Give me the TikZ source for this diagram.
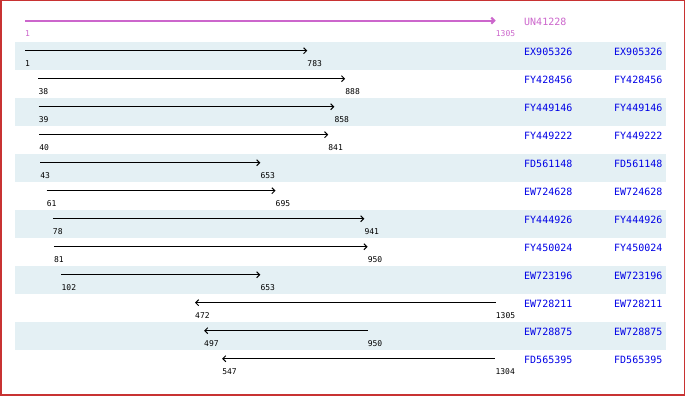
\documentclass[tikz,border=0pt]{standalone}
\usepackage{fontspec}
\newfontfamily\monof{DejaVu Sans Mono}
\usetikzlibrary{arrows.meta}
\definecolor{frameRed}{RGB}{200,50,50}
\definecolor{rowShade}{RGB}{228,240,244}
\definecolor{nameBlue}{RGB}{0,0,230}
\definecolor{queryMag}{RGB}{204,102,204}
\tikzset{
  seqarrow/.style={line width=1pt, black},
  fwd/.style={-{Straight Barb[length=3pt,width=6pt]}},
  rev/.style={{Straight Barb[length=3pt,width=6pt]}-},
  numlbl/.style={inner sep=0pt, anchor=west, font=\monof\fontsize{8}{8}\selectfont},
  namelbl/.style={inner sep=0pt, anchor=west, text=nameBlue, font=\monof\fontsize{10}{10}\selectfont},
  shadebox/.style={fill=rowShade, draw=none}
}
\begin{document}
\begin{tikzpicture}[x=1pt,y=-1pt]
\useasboundingbox (0,0) rectangle (690,396);
\fill[white] (0,0) rectangle (690,396);
% shaded rows
\foreach \i in {0,2,4,6,8,10}{
  \fill[shadebox] (15,{42+28*\i}) rectangle (666,{70+28*\i});
}
% query row
\coordinate (qs) at (25,20.7);
\coordinate (qe) at (495.7,20.7);
\draw[line width=2pt, queryMag, -{Straight Barb[length=3pt,width=6pt]}] (qs) -- (qe);
\node[numlbl, text=queryMag] (qls) at (25,34) {1};
\node[numlbl, text=queryMag] (qle) at (495.7,34) {1305};
\node[namelbl, text=queryMag] (qn) at (524,22) {UN41228};
% hit rows
\foreach \i/\a/\b/\nm/\d in {
  0/1/783/EX905326/fwd,
  1/38/888/FY428456/fwd,
  2/39/858/FY449146/fwd,
  3/40/841/FY449222/fwd,
  4/43/653/FD561148/fwd,
  5/61/695/EW724628/fwd,
  6/78/941/FY444926/fwd,
  7/81/950/FY450024/fwd,
  8/102/653/EW723196/fwd,
  9/472/1305/EW728211/rev,
  10/497/950/EW728875/rev,
  11/547/1304/FD565395/rev}{
  \pgfmathsetmacro\rtop{42+28*\i}
  \pgfmathsetmacro\xa{25+(\a-1)*0.36097}
  \pgfmathsetmacro\xb{25+(\b-1)*0.36097}
  \coordinate (s\i) at (\xa,\rtop+8.7);
  \coordinate (e\i) at (\xb,\rtop+8.7);
  \draw[seqarrow,\d] (s\i) -- (e\i);
  \node[numlbl] (ls\i) at (\xa,\rtop+22) {\a};
  \node[numlbl] (le\i) at (\xb,\rtop+22) {\b};
  \node[namelbl] (n\i) at (524,\rtop+10) {\nm};
  \node[namelbl] (m\i) at (614,\rtop+10) {\nm};
}
% frame
\draw[frameRed, line width=1.5pt] (0.75,0.75) rectangle (684.25,394.75);
\end{tikzpicture}
\end{document}
